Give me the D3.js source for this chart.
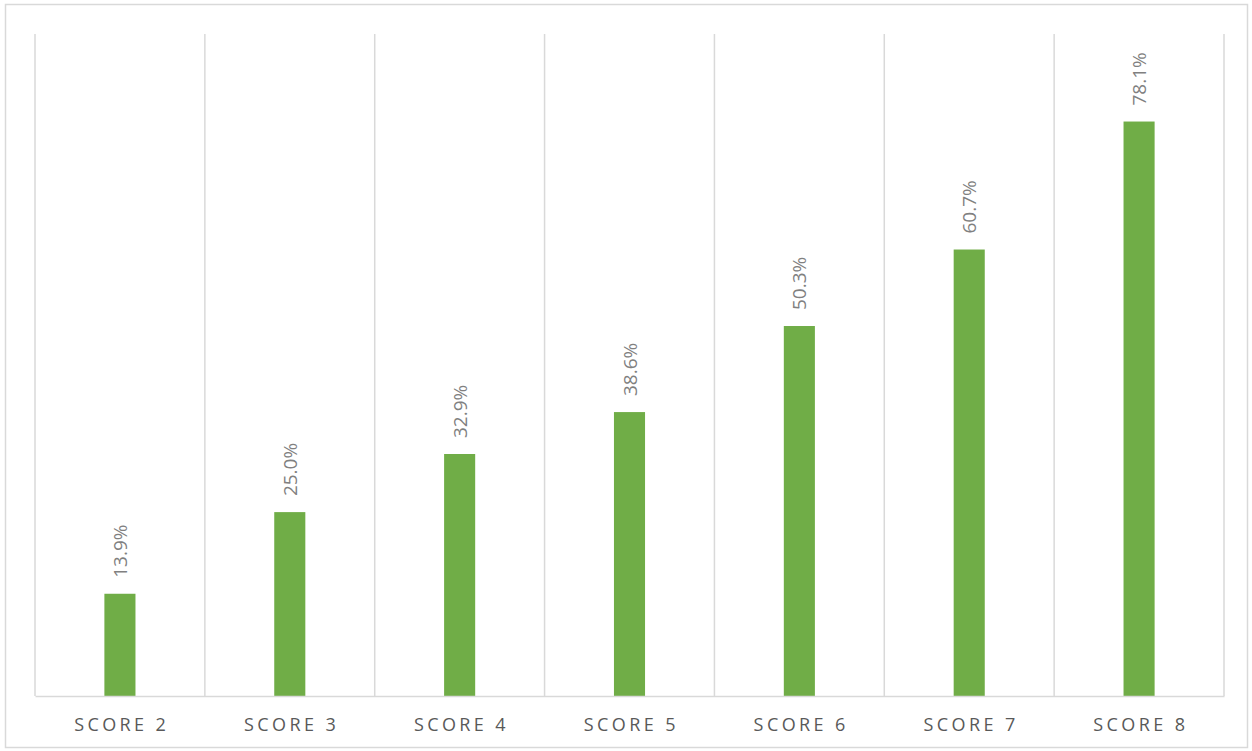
<!DOCTYPE html>
<html>
<head>
<meta charset="utf-8">
<script src="https://cdn.jsdelivr.net/npm/d3@7"></script>
<style>
  html, body { margin: 0; padding: 0; background: #fff; }
  svg { display: block; }
</style>
</head>
<body>
<script>
// Share of records per score level
const categories = ["SCORE 2", "SCORE 3", "SCORE 4", "SCORE 5", "SCORE 6", "SCORE 7", "SCORE 8"];
const values = [13.9, 25.0, 32.9, 38.6, 50.3, 60.7, 78.1];
const yMax = 90;

const W = 1252, H = 751;
const margin = { left: 35, right: 28, top: 34, bottom: 55 };

const svg = d3.select("body").append("svg")
  .attr("width", W).attr("height", H);

// outer chart frame
svg.append("rect")
  .attr("x", 5.5).attr("y", 4.5)
  .attr("width", W - 10).attr("height", H - 8)
  .attr("fill", "#fff").attr("stroke", "#d9d9d9").attr("stroke-width", 1.5);

const x = d3.scaleBand()
  .domain(categories)
  .range([margin.left, W - margin.right])
  .paddingInner(0).paddingOuter(0);

const y = d3.scaleLinear()
  .domain([0, yMax])
  .range([H - margin.bottom, margin.top]);

const g = svg.append("g");

// vertical separators between categories
const bounds = categories.map(c => x(c)).concat([x(categories[categories.length - 1]) + x.bandwidth()]);
g.selectAll("line.sep").data(bounds).join("line")
  .attr("class", "sep")
  .attr("x1", d => d).attr("x2", d => d)
  .attr("y1", y(yMax)).attr("y2", y(0))
  .attr("stroke", "#d9d9d9").attr("stroke-width", 1.5);

// bars
const barW = x.bandwidth() * 0.183;
g.selectAll("rect.bar").data(values).join("rect")
  .attr("class", "bar")
  .attr("x", (d, i) => x(categories[i]) + x.bandwidth() / 2 - barW / 2)
  .attr("width", barW)
  .attr("y", d => y(d))
  .attr("height", d => y(0) - y(d))
  .attr("fill", "#70ad47");

// category axis
const xAxis = d3.axisBottom(x).tickSize(0).tickPadding(0);
const ax = svg.append("g")
  .attr("transform", `translate(0,${y(0)})`)
  .call(xAxis);
ax.select(".domain").attr("stroke", "#d9d9d9").attr("stroke-width", 1.5);
ax.selectAll(".tick text")
  .attr("dy", 0)
  .attr("y", 35)
  .attr("dx", "0.1em")
  .style("font-family", "'Open Sans', sans-serif")
  .style("font-size", "18px")
  .style("letter-spacing", "3.4px")
  .attr("fill", "#595959");

// value labels, rotated
g.selectAll("text.val").data(values).join("text")
  .attr("class", "val")
  .attr("transform", (d, i) => {
    const cx = x(categories[i]) + x.bandwidth() / 2;
    return `translate(${cx + 7},${y(d) - 16}) rotate(-90)`;
  })
  .attr("text-anchor", "start")
  .style("font-family", "'Open Sans', sans-serif")
  .style("font-size", "19px")
  .attr("fill", "#808080")
  .text(d => d.toFixed(1) + "%");
</script>
</body>
</html>
